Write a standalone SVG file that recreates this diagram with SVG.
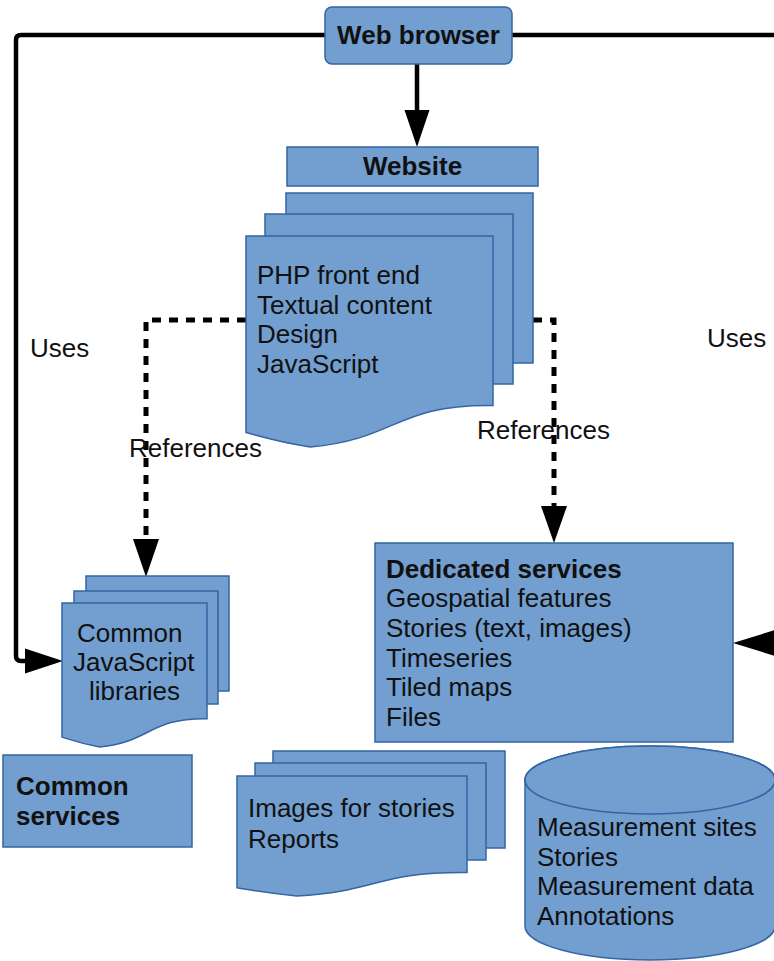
<svg xmlns="http://www.w3.org/2000/svg" width="774" height="961" viewBox="0 0 774 961">
  <style>
    .shape { fill: #729fcf; stroke: #3465a4; stroke-width: 1.5; }
    .txt { font-family: "Liberation Sans", Arial, sans-serif; font-size: 26px; fill: #111; }
    .bold { font-weight: bold; }
    .mid { text-anchor: middle; }
    .solid { fill: none; stroke: #000; stroke-width: 4.5; stroke-linejoin: round; }
    .dotted { fill: none; stroke: #000; stroke-width: 5; stroke-dasharray: 9 8; }
    .head { fill: #000; stroke: none; }
  </style>
  <rect width="774" height="961" fill="#fff"/>

  <!-- connectors -->
  <g id="connectors">
    <!-- Uses: browser to common libraries -->
    <path class="solid" d="M325,35 H21 Q16,35 16,40 V656 Q16,661 21,661 H28"/>
    <polygon class="head" points="25,648.5 63,661 25,673.5"/>
    <!-- Uses: browser to dedicated services -->
    <path class="solid" d="M512,35 H780"/>
    <path class="solid" d="M770,643 H780"/>
    <polygon class="head" points="775,630 733,643 775,656"/>
    <!-- browser to website -->
    <path class="solid" d="M417,64 V112"/>
    <polygon class="head" points="404.5,110 429.5,110 417,147"/>
    <!-- References: website to common libraries -->
    <path class="dotted" d="M246,320 H146 V540"/>
    <polygon class="head" points="133,539 159,539 146,577"/>
    <!-- References: website to dedicated services -->
    <path class="dotted" d="M533,320 H554 V507"/>
    <polygon class="head" points="541,506 567,506 554,543"/>
    <text class="txt" x="30" y="357">Uses</text>
    <text class="txt" x="707" y="347">Uses</text>
    <text class="txt" x="129" y="457">References</text>
    <text class="txt" x="477" y="439">References</text>
  </g>

  <g id="web-browser">
    <rect class="shape" x="325" y="7" width="187" height="57" rx="7"/>
    <text class="txt bold mid" x="418.5" y="44">Web browser</text>
  </g>

  <g id="website">
    <rect class="shape" x="287" y="147" width="251" height="39"/>
    <text class="txt bold mid" x="412.5" y="175">Website</text>
  </g>

  <g id="website-documents">
    <rect class="shape" x="286" y="193" width="247" height="170"/>
    <rect class="shape" x="265" y="214" width="248" height="170"/>
    <path class="shape" d="M246,236 H493 V405.6 C395.2,404.2 398.5,438.9 310.3,447 C278.7,442.1 267.1,438.2 246,432.5 Z"/>
    <text class="txt" x="257" y="284">PHP front end</text>
    <text class="txt" x="257" y="313.7">Textual content</text>
    <text class="txt" x="257" y="343.4">Design</text>
    <text class="txt" x="257" y="373.1">JavaScript</text>
  </g>

  <g id="common-js-libraries">
    <rect class="shape" x="86" y="576" width="143" height="115"/>
    <rect class="shape" x="74" y="591" width="144" height="113"/>
    <path class="shape" d="M62,603 H207 V718.7 C149.6,717.8 151.6,741.5 99.7,747 C81.2,743.7 74.4,741 62,737.1 Z"/>
    <text class="txt" x="77" y="642">Common</text>
    <text class="txt" x="73" y="671">JavaScript</text>
    <text class="txt" x="89" y="700">libraries</text>
  </g>

  <g id="common-services">
    <rect class="shape" x="3" y="755" width="189" height="92"/>
    <text class="txt bold" x="16" y="795">Common</text>
    <text class="txt bold" x="16" y="824.5">services</text>
  </g>

  <g id="dedicated-services">
    <rect class="shape" x="375" y="543" width="358" height="199"/>
    <text class="txt bold" x="386" y="577.5">Dedicated services</text>
    <text class="txt" x="386" y="607.2">Geospatial features</text>
    <text class="txt" x="386" y="636.9">Stories (text, images)</text>
    <text class="txt" x="386" y="666.6">Timeseries</text>
    <text class="txt" x="386" y="696.3">Tiled maps</text>
    <text class="txt" x="386" y="726">Files</text>
  </g>

  <g id="file-documents">
    <rect class="shape" x="273" y="751" width="232" height="97"/>
    <rect class="shape" x="255" y="763" width="231" height="97"/>
    <path class="shape" d="M237,776 H467 V872.4 C376,871.7 379,891.4 296.8,896 C267.5,893.2 256.7,891 237,887.8 Z"/>
    <text class="txt" x="248" y="817">Images for stories</text>
    <text class="txt" x="248" y="847.5">Reports</text>
  </g>

  <g id="database">
    <path class="shape" d="M525,780 V926 A125,34 0 0 0 775,926 V780 A125,34 0 0 0 525,780 Z"/>
    <ellipse class="shape" cx="650" cy="780" rx="125" ry="34"/>
    <text class="txt" x="537" y="836">Measurement sites</text>
    <text class="txt" x="537" y="865.5">Stories</text>
    <text class="txt" x="537" y="895">Measurement data</text>
    <text class="txt" x="537" y="924.5">Annotations</text>
  </g>
</svg>
